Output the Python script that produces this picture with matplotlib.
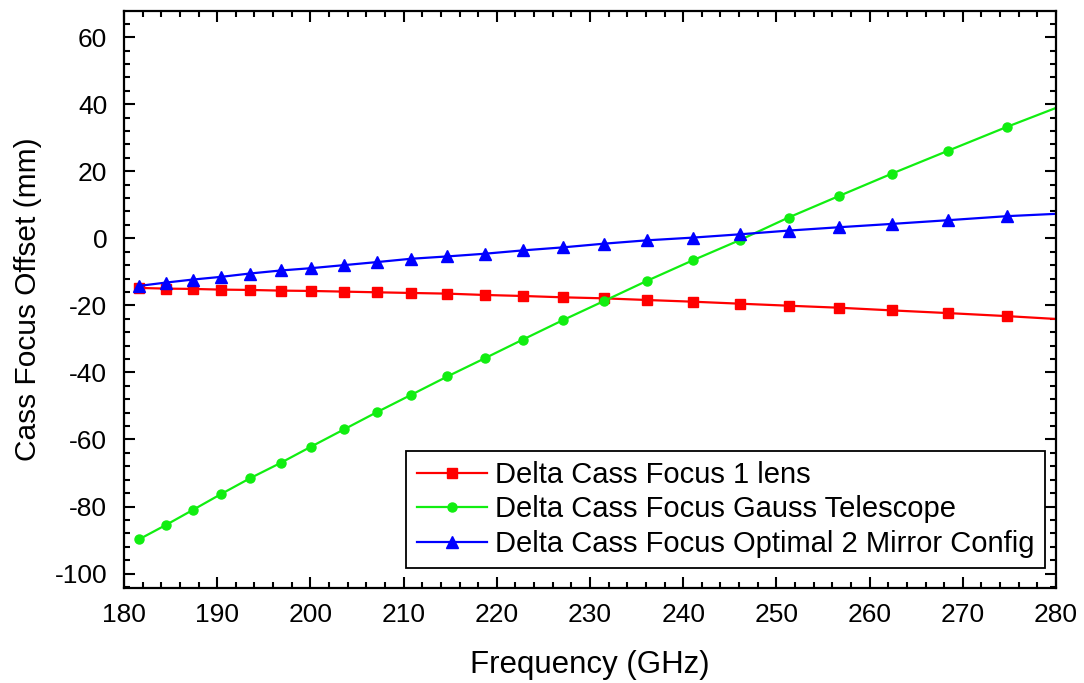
import matplotlib
matplotlib.use("Agg")
import matplotlib.pyplot as plt
from matplotlib.ticker import MultipleLocator

plt.rcParams['font.family'] = ['Liberation Sans', 'DejaVu Sans']
plt.rcParams['axes.unicode_minus'] = False

freq = [181.6, 184.5, 187.4, 190.4, 193.5, 196.8, 200.1, 203.6, 207.1, 210.8,
        214.7, 218.7, 222.8, 227.1, 231.5, 236.1, 241.0, 246.1, 251.3, 256.7,
        262.4, 268.4, 274.7, 281.5]

lens = [-14.8, -15.0, -15.1, -15.3, -15.4, -15.6, -15.7, -15.9, -16.1, -16.3,
        -16.5, -16.9, -17.2, -17.6, -17.9, -18.4, -18.9, -19.5, -20.1, -20.7,
        -21.5, -22.3, -23.2, -24.3]

gauss = [-89.8, -85.5, -81.0, -76.3, -71.6, -67.0, -62.1, -57.0, -51.9, -46.7,
         -41.2, -35.8, -30.2, -24.4, -18.7, -12.7, -6.6, -0.5, 6.2, 12.6,
         19.3, 26.1, 33.2, 40.5]

mirror = [-14.2, -13.2, -12.3, -11.5, -10.5, -9.6, -8.9, -8.0, -7.1, -6.1,
          -5.4, -4.6, -3.6, -2.7, -1.6, -0.6, 0.2, 1.2, 2.3, 3.3,
          4.3, 5.4, 6.6, 7.5]

labels = ["Delta Cass Focus 1 lens",
          "Delta Cass Focus Gauss Telescope",
          "Delta Cass Focus Optimal 2 Mirror Config"]

fig = plt.figure(figsize=(10.84, 6.83), dpi=100)
ax = fig.add_axes([124 / 1084, 1 - 588 / 683, (1056 - 124) / 1084, (588 - 11) / 683])

ax.plot(freq, lens, color="#ff0000", lw=1.6, marker="s", ms=6.5, label=labels[0])
ax.plot(freq, gauss, color="#11ee11", lw=1.6, marker="o", ms=6.5, label=labels[1])
ax.plot(freq, mirror, color="#0000ff", lw=1.6, marker="^", ms=8, label=labels[2])

ax.set_xlim(180, 280)
ax.set_ylim(-104.3, 67.8)
ax.xaxis.set_major_locator(MultipleLocator(10))
ax.xaxis.set_minor_locator(MultipleLocator(2))
ax.yaxis.set_major_locator(MultipleLocator(20))
ax.yaxis.set_minor_locator(MultipleLocator(4))
ax.tick_params(which="both", direction="in", top=True, right=True, width=1.5)
ax.tick_params(which="major", length=8, labelsize=19)
ax.tick_params(axis="x", which="major", pad=11)
ax.tick_params(axis="y", which="major", pad=12)
ax.tick_params(which="minor", length=4.5)
for s in ax.spines.values():
    s.set_linewidth(1.6)

ax.set_xlabel("Frequency (GHz)", fontsize=22.5, labelpad=16)
ax.set_ylabel("Cass Focus Offset (mm)", fontsize=21.5, labelpad=9)

leg = ax.legend(loc="lower right", bbox_to_anchor=(1045 / 1084, 1 - 568 / 683),
                bbox_transform=fig.transFigure, borderaxespad=0,
                fontsize=21, fancybox=False, edgecolor="black", framealpha=1,
                handlelength=2.4, handletextpad=0.3, labelspacing=0.22,
                borderpad=0.35)
leg.get_frame().set_linewidth(1.3)

fig.savefig("out.png", dpi=100)
